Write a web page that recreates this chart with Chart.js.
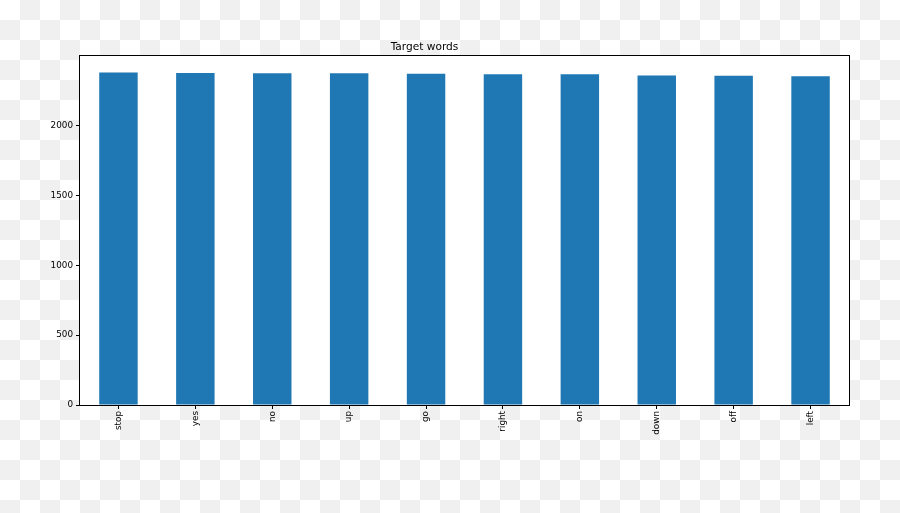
<!DOCTYPE html>
<html>
<head>
<meta charset="utf-8">
<script src="https://cdn.jsdelivr.net/npm/chart.js@4/dist/chart.umd.min.js"></script>
<style>
  html, body {
    margin: 0;
    padding: 0;
  }
  body {
    width: 900px;
    height: 513px;
    overflow: hidden;
    background: repeating-conic-gradient(#f0f0f0 0 25%, #ffffff 0 50%) 0 0 / 40px 40px;
  }
  canvas { display: block; }
</style>
</head>
<body>
<canvas id="chart" width="900" height="513"></canvas>
<script>
// 数据
const words = ['stop', 'yes', 'no', 'up', 'go', 'right', 'on', 'down', 'off', 'left'];
const counts = [2380, 2377, 2375, 2375, 2372, 2367, 2367, 2359, 2357, 2353];
const yTicks = [0, 500, 1000, 1500, 2000];

// 白底 + 四边框
const framePlugin = {
    id: 'frame',
    beforeDraw(chart) {
        const a = chart.chartArea;
        const ctx = chart.ctx;
        ctx.save();
        ctx.fillStyle = '#ffffff';
        ctx.fillRect(a.left, a.top, a.right - a.left, a.bottom - a.top);
        ctx.restore();
    },
    afterDraw(chart) {
        const a = chart.chartArea;
        const ctx = chart.ctx;
        ctx.save();
        ctx.strokeStyle = '#000000';
        ctx.lineWidth = 1;
        ctx.strokeRect(Math.round(a.left) - 0.5, Math.round(a.top) - 0.5,
            Math.round(a.right - a.left) + 1, Math.round(a.bottom - a.top) + 1);
        ctx.restore();
    }
};

const tickFont = { family: 'DejaVu Sans', size: 8.8 };

new Chart(document.getElementById('chart').getContext('2d'), {
    type: 'bar',
    data: {
        labels: words,
        datasets: [{
            data: counts,
            backgroundColor: '#1f77b4',
            borderWidth: 0,
            barPercentage: 0.5,
            categoryPercentage: 1.0
        }]
    },
    options: {
        responsive: false,
        animation: false,
        layout: {
            padding: { left: 0, right: 51, top: 0, bottom: 0 }
        },
        plugins: {
            legend: { display: false },
            tooltip: { enabled: false },
            title: {
                display: true,
                text: 'Target words',
                color: '#000000',
                font: { family: 'DejaVu Sans', size: 10.6, weight: 'normal' },
                padding: { top: 40.6, bottom: 2.6 }
            }
        },
        scales: {
            x: {
                offset: true,
                border: { display: false },
                grid: {
                    offset: false,
                    drawOnChartArea: false,
                    drawTicks: true,
                    tickLength: 4,
                    color: '#000000'
                },
                ticks: {
                    color: '#000000',
                    font: tickFont,
                    minRotation: 90,
                    maxRotation: 90,
                    padding: 2
                },
                afterFit(scale) {
                    scale.height = 108;
                }
            },
            y: {
                min: 0,
                max: 2499,
                border: { display: false },
                grid: {
                    drawOnChartArea: false,
                    drawTicks: true,
                    tickLength: 4,
                    color: '#000000'
                },
                ticks: {
                    color: '#000000',
                    font: tickFont,
                    stepSize: 500,
                    includeBounds: false,
                    padding: 3,
                    callback: value => String(value)
                },
                afterBuildTicks(scale) {
                    scale.ticks = yTicks.map(v => ({ value: v }));
                },
                afterFit(scale) {
                    scale.width = 80;
                }
            }
        }
    },
    plugins: [framePlugin]
});
</script>
</body>
</html>
